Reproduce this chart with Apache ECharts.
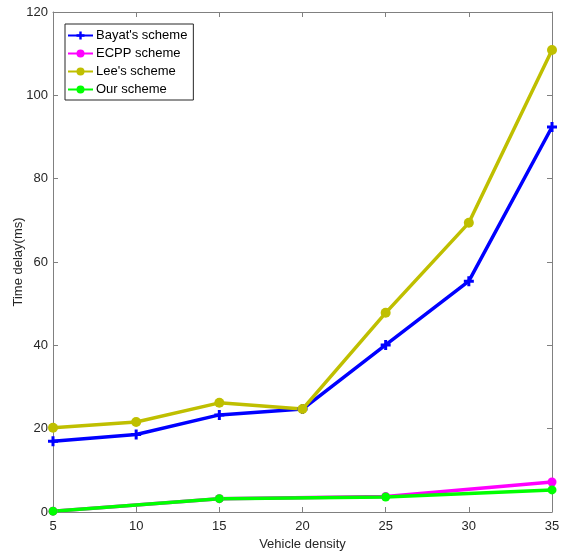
<!DOCTYPE html>
<html><head><meta charset="utf-8">
<script src="https://cdn.jsdelivr.net/npm/echarts@6/dist/echarts.min.js"></script>
<style>html,body{margin:0;padding:0;background:#fff}#c{width:561px;height:553px}</style>
</head><body><div id="c"></div>
<script>
var xFull = [5, 10, 15, 20, 25, 30, 35];
var xSparse = [5, 15, 25, 35];
var bayat = [17.0, 18.6, 23.3, 24.7, 40.1, 55.4, 92.4];
var lee = [20.2, 21.6, 26.2, 24.7, 47.8, 69.4, 110.9];
var ecpp = [0.2, 3.2, 3.7, 7.2];
var ours = [0.2, 3.2, 3.6, 5.3];
var names = ["Bayat's scheme", "ECPP scheme", "Lee's scheme", "Our scheme"];
var colors = ['#0000ff', '#ff00ff', '#bfbf00', '#00ff00'];

function pairs(xs, ys) { return xs.map(function (x, i) { return [x, ys[i]]; }); }
var plusPath = 'path://M3.5,0H6.5V3.5H10V6.5H6.5V10H3.5V6.5H0V3.5H3.5Z';
var font = 'Liberation Sans, Arial, sans-serif';
var axisCol = '#808080';

function mk(name, xs, ys, color, symbol, size) {
  return {
    name: name, type: 'line', data: pairs(xs, ys), color: color,
    symbol: symbol, symbolSize: size, showSymbol: true,
    lineStyle: { width: 3.5, color: color }, itemStyle: { color: color },
    xAxisIndex: 0, yAxisIndex: 0, animation: false
  };
}

var chart = echarts.init(document.getElementById('c'));
chart.setOption({
  backgroundColor: '#fff',
  animation: false,
  textStyle: { fontFamily: font },
  grid: { left: 53, right: 9, top: 12, bottom: 41, outerBoundsMode: 'none', containLabel: false },
  legend: {
    orient: 'vertical', left: 65, top: 24, itemGap: 5,
    itemWidth: 25, itemHeight: 10,
    borderColor: '#262626', borderWidth: 1, padding: [5, 6, 4, 2],
    backgroundColor: '#fff',
    textStyle: { fontSize: 13, color: '#000', fontFamily: font, padding: [0, 0, 0, -2] },
    data: names
  },
  xAxis: [{
    type: 'value', min: 5, max: 35, interval: 5,
    name: 'Vehicle density', nameLocation: 'middle', nameGap: 26, nameMoveOverlap: false,
    nameTextStyle: { fontSize: 13, color: '#262626' },
    axisLine: { show: true, lineStyle: { color: axisCol } },
    axisTick: { show: true, inside: true, length: 5, lineStyle: { color: axisCol } },
    axisLabel: { fontSize: 13, color: '#262626', margin: 8 },
    splitLine: { show: false }
  }, {
    type: 'value', min: 5, max: 35, interval: 5, position: 'top',
    axisLine: { show: true, onZero: false, lineStyle: { color: axisCol } },
    axisTick: { show: true, inside: true, length: 5, lineStyle: { color: axisCol } },
    axisLabel: { show: false }, splitLine: { show: false }
  }],
  yAxis: [{
    type: 'value', min: 0, max: 120, interval: 20,
    name: 'Time delay(ms)', nameLocation: 'middle', nameGap: 28, nameMoveOverlap: false,
    nameTextStyle: { fontSize: 13, color: '#262626' },
    axisLine: { show: true, lineStyle: { color: axisCol } },
    axisTick: { show: true, inside: true, length: 5, lineStyle: { color: axisCol } },
    axisLabel: { fontSize: 13, color: '#262626', margin: 5 },
    splitLine: { show: false }
  }, {
    type: 'value', min: 0, max: 120, interval: 20, position: 'right',
    axisLine: { show: true, onZero: false, lineStyle: { color: axisCol } },
    axisTick: { show: true, inside: true, length: 5, lineStyle: { color: axisCol } },
    axisLabel: { show: false }, splitLine: { show: false }
  }],
  series: [
    mk(names[0], xFull, bayat, colors[0], plusPath, 10),
    mk(names[1], xSparse, ecpp, colors[1], 'circle', 9),
    mk(names[2], xFull, lee, colors[2], 'circle', 10),
    mk(names[3], xSparse, ours, colors[3], 'circle', 9)
  ]
});
</script></body></html>
